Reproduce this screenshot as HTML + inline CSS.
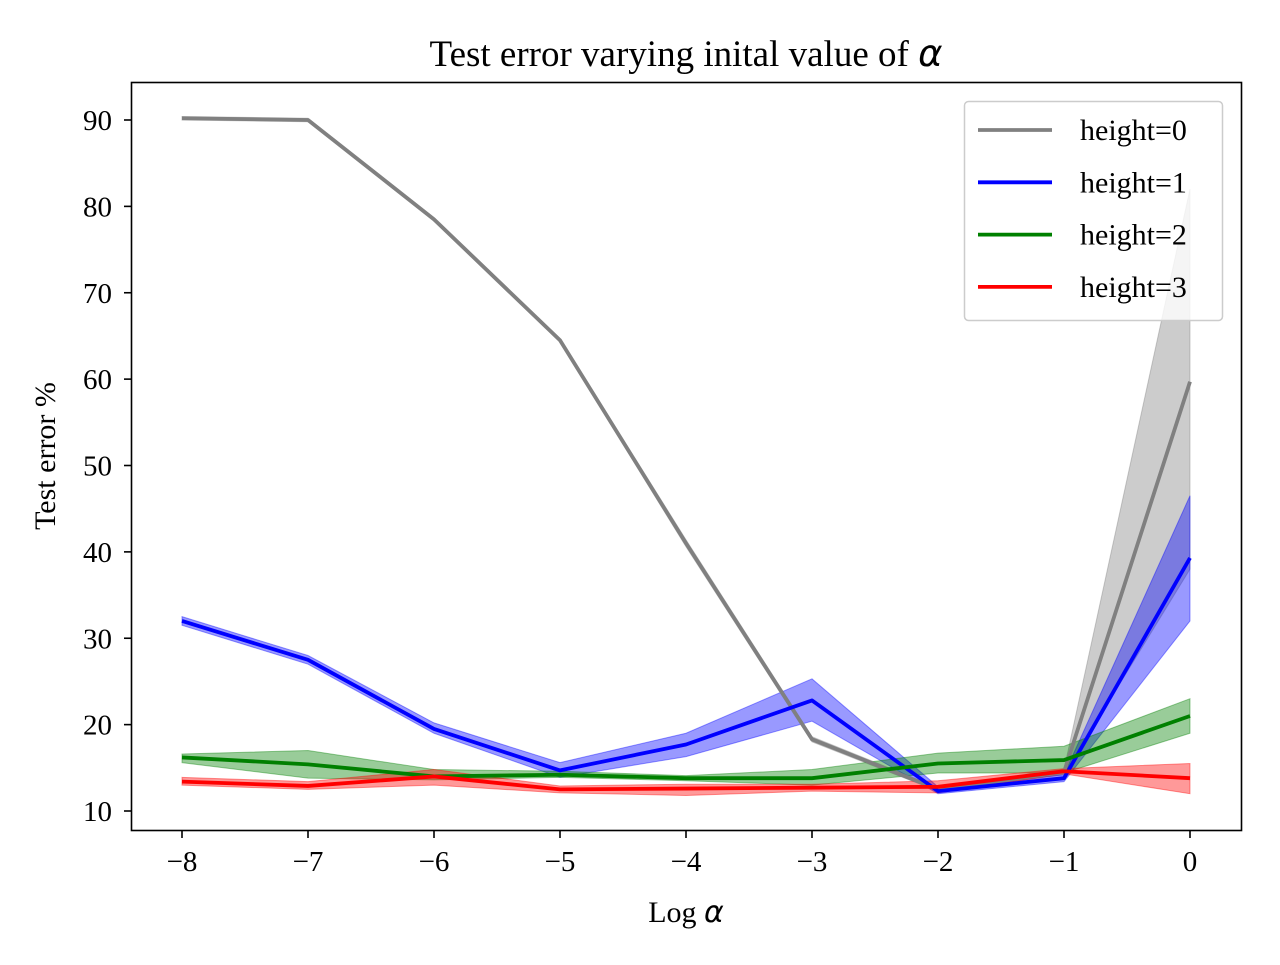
<!DOCTYPE html>
<html><head><meta charset="utf-8"><style>
body{margin:0;background:#fff}
svg text{font-family:"Liberation Serif",serif;fill:#000}
</style></head><body>
<svg id="chart" width="1280" height="960" xmlns="http://www.w3.org/2000/svg">
<rect width="1280" height="960" fill="#fff"/>
<text x="686" y="66" font-size="37" text-anchor="middle">Test error varying inital value of <tspan font-family="DejaVu Sans" font-style="italic">α</tspan></text>
<g id="bands"></g><g id="lines"></g>
<rect x="131.5" y="82.5" width="1110" height="748" fill="none" stroke="#000" stroke-width="1.6"/>
<g id="axes"></g>
<text x="686" y="922" font-size="30" text-anchor="middle">Log <tspan font-family="DejaVu Sans" font-style="italic">α</tspan></text>
<text transform="translate(55,456) rotate(-90)" font-size="30" text-anchor="middle">Test error %</text>
<g id="legend"></g>
</svg>
<script>
const xs=[-8,-7,-6,-5,-4,-3,-2,-1,0];
const names=["height=0","height=1","height=2","height=3"];
const colors=["#808080","#0000ff","#008000","#ff0000"];
const mean0=[90.2,90.0,78.5,64.5,41,18.3,12.5,14.5,59.7];
const lo0=[90.0,89.8,78.3,64.3,40.6,18.0,12.3,14.2,38];
const hi0=[90.4,90.2,78.7,64.7,41.4,18.6,12.7,14.8,82];
const mean1=[32,27.5,19.5,14.7,17.7,22.8,12.3,13.8,39.3];
const lo1=[31.5,27.0,19.0,13.9,16.3,20.4,12.0,13.4,32];
const hi1=[32.5,28.0,20.2,15.6,19.0,25.3,12.8,14.2,46.5];
const mean2=[16.2,15.4,14.0,14.2,13.8,13.8,15.5,15.9,21];
const lo2=[15.6,13.8,13.6,13.9,13.5,13.0,14.4,14.4,19];
const hi2=[16.6,17.0,14.8,14.6,14.1,14.8,16.7,17.5,23];
const mean3=[13.4,12.9,14.0,12.5,12.6,12.7,12.8,14.6,13.8];
const lo3=[13.0,12.5,13.0,12.1,11.8,12.3,12.1,14.3,12];
const hi3=[13.9,13.4,14.8,12.9,13.1,13.1,13.5,14.9,15.5];
const xticks=[-8,-7,-6,-5,-4,-3,-2,-1,0];
const yticks=[10,20,30,40,50,60,70,80,90];
const X=v=>182+(v+8)*126, Y=v=>811-(v-10)*8.6375;
const NS="http://www.w3.org/2000/svg";
function mk(t,a,p){const e=document.createElementNS(NS,t);for(const k in a)e.setAttribute(k,a[k]);p.appendChild(e);return e;}
const means=[mean0,mean1,mean2,mean3],los=[lo0,lo1,lo2,lo3],his=[hi0,hi1,hi2,hi3];
const bands=document.getElementById('bands'),lines=document.getElementById('lines');
for(let s=0;s<4;s++){
 const pts=xs.map((x,i)=>X(x)+','+Y(his[s][i])).concat(xs.map((x,i)=>X(x)+','+Y(los[s][i])).reverse());
 const b=mk('polygon',{points:pts.join(' '),fill:colors[s],'fill-opacity':0.4,stroke:colors[s],'stroke-opacity':0.4},bands);
 
 
}
for(let s=0;s<4;s++){
 const l=mk('polyline',{points:xs.map((x,i)=>X(x)+','+Y(means[s][i])).join(' '),fill:'none',stroke:colors[s],'stroke-width':3.8,'stroke-linejoin':'round'},lines);
 
 
}
const ax=document.getElementById('axes');
xticks.forEach(t=>{
 mk('line',{x1:X(t),x2:X(t),y1:831,y2:838,stroke:'#000','stroke-width':1.6},ax);
 const tx=mk('text',{x:X(t),y:871,'font-size':29,'text-anchor':'middle'},ax);
 tx.textContent=t<0?'\u2212'+(-t):String(t);
 
 
});
yticks.forEach(t=>{
 mk('line',{x1:124,x2:131,y1:Y(t),y2:Y(t),stroke:'#000','stroke-width':1.6},ax);
 const tx=mk('text',{x:112,y:Y(t)+10,'font-size':29,'text-anchor':'end'},ax);
 tx.textContent=String(t);
 
 
});
const lg=document.getElementById('legend');
mk('rect',{x:964.5,y:101.5,width:258,height:219,rx:4,fill:'#fff','fill-opacity':0.8,stroke:'#ccc','stroke-width':1.5},lg);
for(let s=0;s<4;s++){
 const y=130+s*52.3;
 const l=mk('line',{x1:978,x2:1052,y1:y,y2:y,stroke:colors[s],'stroke-width':3.8},lg);
 
 
 const t=mk('text',{x:1080,y:y+10,'font-size':30},lg);
 t.textContent=names[s];
 
 
}
</script>
</body></html>
